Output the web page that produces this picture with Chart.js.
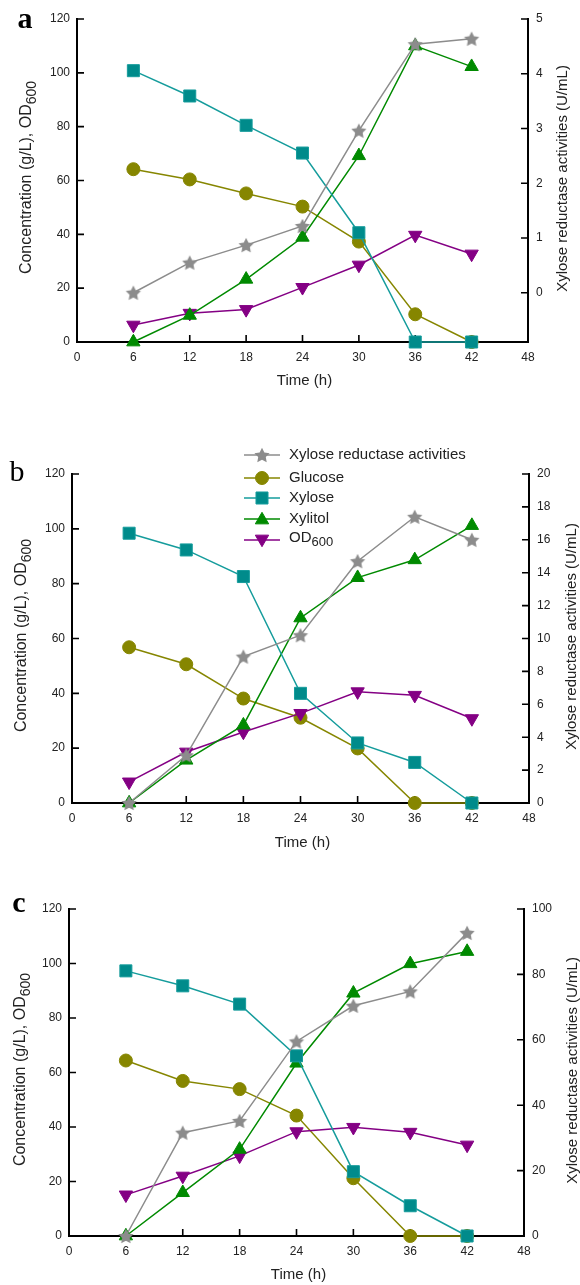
<!DOCTYPE html>
<html>
<head>
<meta charset="utf-8">
<script src="https://cdn.jsdelivr.net/npm/chart.js@4.4.1/dist/chart.umd.min.js"></script>
<style>
  html, body { margin: 0; padding: 0; background: #fff; }
  .panel { position: absolute; left: 0; width: 580px; }
  canvas { display: block; }
</style>
</head>
<body>
<div class="panel" style="top:0px"><canvas id="chartA" width="580" height="395"></canvas></div>
<div class="panel" style="top:395px"><canvas id="chartB" width="580" height="455"></canvas></div>
<div class="panel" style="top:850px"><canvas id="chartC" width="580" height="435"></canvas></div>
<script>
// sampling times and axis ticks
const times = [6, 12, 18, 24, 30, 36, 42];
const xTicks = [0, 6, 12, 18, 24, 30, 36, 42, 48];
const leftTicks = [0, 20, 40, 60, 80, 100, 120];

// panel a
const glucoseA = [64.2, 60.4, 55.2, 50.3, 37.3, 10.3, 0];
const xyloseA = [100.8, 91.4, 80.5, 70.2, 40.6, 0, 0];
const xylitolA = [0, 9.9, 23.3, 38.9, 69.2, 110, 102.3];
const odA = [6.3, 10.7, 12.1, 20.3, 28.6, 39.7, 32.7];
const activityA = [0, 0.55, 0.87, 1.22, 2.96, 4.54, 4.64];
const rightTicksA = [0, 1, 2, 3, 4, 5];

// panel b
const glucoseB = [56.8, 50.6, 38.1, 31.1, 19.9, 0, 0];
const xyloseB = [98.4, 92.3, 82.6, 40, 21.9, 14.8, 0];
const xylitolB = [0, 15.6, 28.4, 67.5, 82.2, 88.7, 101.2];
const odB = [7.7, 18.6, 25.9, 32.7, 40.6, 39.3, 30.8];
const activityB = [0, 2.9, 8.9, 10.2, 14.7, 17.4, 16.0];
const rightTicksB = [0, 2, 4, 6, 8, 10, 12, 14, 16, 18, 20];

// panel c
const glucoseC = [64.4, 56.9, 53.9, 44.2, 21.2, 0, 0];
const xyloseC = [97.3, 91.8, 85.1, 66.1, 23.6, 11.1, 0];
const xylitolC = [0, 15.9, 31.8, 63.4, 89.1, 99.9, 104.4];
const odC = [15.1, 22.0, 29.4, 38.3, 39.9, 38.1, 33.4];
const activityC = [0, 31.6, 35.2, 59.5, 70.4, 74.8, 92.7];
const rightTicksC = [0, 20, 40, 60, 80, 100];

const FONT = '"Liberation Sans", Arial, sans-serif';
const GRAY = "#8c8c8c";
const OLIVE = "#868600";
const TEAL = "#008b8b";
const GREEN = "#008a00";
const PURPLE = "#840084";

Chart.defaults.font.family = FONT;

function makeStar(color, R) {
  const c = document.createElement("canvas");
  const s = Math.ceil(R * 2) + 2;
  c.width = s;
  c.height = s;
  const g = c.getContext("2d");
  const cx = s / 2, cy = s / 2 + R * 0.1;
  g.beginPath();
  for (let i = 0; i < 10; i++) {
    const a = -Math.PI / 2 + (i * Math.PI) / 5;
    const r = i % 2 ? R * 0.5 : R;
    g.lineTo(cx + r * Math.cos(a), cy + r * Math.sin(a));
  }
  g.closePath();
  g.fillStyle = color;
  g.fill();
  return c;
}
const starImg = makeStar(GRAY, 8);

// series look, in legend order
const seriesStyle = [
  { label: "Xylose reductase activities", color: GRAY, fill: GRAY, style: starImg, r: 7, rot: 0, order: 0 },
  { label: "Glucose", color: OLIVE, fill: OLIVE, style: "circle", r: 6.5, rot: 0, order: 4 },
  { label: "Xylose", color: "#159c9c", fill: TEAL, style: "rect", r: 8.5, rot: 0, order: 1 },
  { label: "Xylitol", color: GREEN, fill: GREEN, style: "triangle", r: 7.7, rot: 0, order: 2 },
  { label: "OD600", color: PURPLE, fill: PURPLE, style: "triangle", r: 7.7, rot: 180, order: 3 },
];

function drawParts(ctx, parts, x, y, angle, size) {
  ctx.save();
  ctx.translate(x, y);
  ctx.rotate(angle);
  ctx.textBaseline = "middle";
  ctx.fillStyle = "#222";
  const sub = Math.round(size * 0.85);
  let total = 0;
  const w = parts.map((p) => {
    ctx.font = (p[1] ? sub : size) + "px " + FONT;
    const m = ctx.measureText(p[0]).width;
    total += m;
    return m;
  });
  let cx = -total / 2;
  parts.forEach((p, i) => {
    ctx.font = (p[1] ? sub : size) + "px " + FONT;
    ctx.fillText(p[0], cx, p[1] ? size * 0.3 : 0);
    cx += w[i];
  });
  ctx.restore();
}

function drawMarker(ctx, s, x, y) {
  ctx.save();
  ctx.fillStyle = s.fill;
  ctx.strokeStyle = s.color;
  ctx.lineWidth = 1;
  if (Chart.helpers && Chart.helpers.drawPoint) {
    Chart.helpers.drawPoint(ctx, { pointStyle: s.style, rotation: s.rot, radius: s.r, borderWidth: 1 }, x, y);
  }
  ctx.restore();
}

const decor = {
  id: "decor",
  beforeDatasetsDraw(chart) {
    // inward tick marks
    const ctx = chart.ctx;
    const a = chart.chartArea;
    ctx.save();
    ctx.strokeStyle = "#000";
    ctx.lineWidth = 1.6;
    ctx.beginPath();
    chart.scales.x.ticks.forEach((t) => {
      const px = chart.scales.x.getPixelForValue(t.value);
      ctx.moveTo(px, a.bottom);
      ctx.lineTo(px, a.bottom - 7);
    });
    chart.scales.y.ticks.forEach((t) => {
      const py = chart.scales.y.getPixelForValue(t.value);
      ctx.moveTo(a.left, py);
      ctx.lineTo(a.left + 7, py);
    });
    chart.scales.y1.ticks.forEach((t) => {
      const py = chart.scales.y1.getPixelForValue(t.value);
      ctx.moveTo(a.right, py);
      ctx.lineTo(a.right - 7, py);
    });
    ctx.stroke();
    ctx.restore();
  },
  afterDraw(chart, args, o) {
    const ctx = chart.ctx;
    const a = chart.chartArea;
    // panel letter
    ctx.save();
    ctx.fillStyle = "#000";
    ctx.font = (o.bold ? "bold " : "") + '30px "Liberation Serif", "Times New Roman", serif';
    ctx.textAlign = "center";
    ctx.textBaseline = "alphabetic";
    ctx.fillText(o.letter, o.letterX, o.letterY);
    ctx.restore();
    // axis titles
    drawParts(ctx, [["Time (h)", false]], (a.left + a.right) / 2 + 2, o.timeY, 0, 15);
    drawParts(ctx, [["Concentration (g/L), OD", false], ["600", true]], o.leftX, (a.top + a.bottom) / 2 - 3, -Math.PI / 2, 16);
    drawParts(ctx, [["Xylose reductase activities (U/mL)", false]], o.rightX, (a.top + a.bottom) / 2 - 2, -Math.PI / 2, 15);
    // legend
    if (o.legend) {
      const rows = [60, 83, 103, 124, 145];
      seriesStyle.forEach((s, i) => {
        const y = rows[i];
        ctx.save();
        ctx.strokeStyle = s.color;
        ctx.lineWidth = 1.5;
        ctx.beginPath();
        ctx.moveTo(244, y);
        ctx.lineTo(280, y);
        ctx.stroke();
        ctx.restore();
        drawMarker(ctx, s, 262, y + (s.style === "triangle" ? (s.rot ? -1 : 1) : 0));
        if (s.label === "OD600") {
          ctx.save();
          ctx.font = "15px " + FONT;
          ctx.fillStyle = "#222";
          ctx.textBaseline = "middle";
          ctx.fillText("OD", 289, y - 2);
          const w = ctx.measureText("OD").width;
          ctx.font = "13px " + FONT;
          ctx.fillText("600", 289 + w, y + 2);
          ctx.restore();
        } else {
          ctx.save();
          ctx.font = "15px " + FONT;
          ctx.fillStyle = "#222";
          ctx.textBaseline = "middle";
          ctx.fillText(s.label, 289, y);
          ctx.restore();
        }
      });
    }
  },
};

function buildChart(id, geo, series, rightMin, rightMax, rightTicks, deco) {
  const pts = (vals) => times.map((t, i) => ({ x: t, y: vals[i] }));
  const datasets = seriesStyle.map((s, i) => ({
    label: s.label,
    data: pts(series[i]),
    yAxisID: i === 0 ? "y1" : "y",
    borderColor: s.color,
    backgroundColor: s.fill,
    pointBackgroundColor: s.fill,
    pointBorderColor: s.color,
    pointBorderWidth: 1,
    pointStyle: s.style,
    pointRadius: s.r,
    pointHoverRadius: s.r,
    pointRotation: s.rot,
    borderWidth: 1.5,
    tension: 0,
    clip: false,
    order: s.order,
  }));
  const tickFont = { size: 12, family: FONT };
  const grid = { display: false, drawTicks: false };
  return new Chart(document.getElementById(id), {
    type: "line",
    data: { datasets },
    plugins: [decor],
    options: {
      responsive: false,
      animation: false,
      devicePixelRatio: 1,
      layout: { padding: { top: geo.top, left: 0, right: 0, bottom: 0 } },
      plugins: { legend: { display: false }, tooltip: { enabled: false }, decor: deco },
      scales: {
        x: {
          type: "linear",
          min: 0,
          max: 48,
          afterBuildTicks: (s) => { s.ticks = xTicks.map((v) => ({ value: v })); },
          afterFit: (s) => { s.height = geo.height - geo.bottom; },
          grid,
          border: { display: true, color: "#000", width: 2 },
          ticks: { padding: 8, color: "#222", font: tickFont, autoSkip: false, maxRotation: 0 },
        },
        y: {
          type: "linear",
          position: "left",
          min: 0,
          max: 120,
          afterBuildTicks: (s) => { s.ticks = leftTicks.map((v) => ({ value: v })); },
          afterFit: (s) => { s.width = geo.left; },
          grid,
          border: { display: true, color: "#000", width: 2 },
          ticks: { padding: 7, color: "#222", font: tickFont },
        },
        y1: {
          type: "linear",
          position: "right",
          min: rightMin,
          max: rightMax,
          afterBuildTicks: (s) => { s.ticks = rightTicks.map((v) => ({ value: v })); },
          afterFit: (s) => { s.width = 580 - geo.right; },
          grid,
          border: { display: true, color: "#000", width: 2 },
          ticks: { padding: 8, color: "#222", font: tickFont },
        },
      },
    },
  });
}

buildChart("chartA", { top: 19, left: 77, right: 528, bottom: 342, height: 395 },
  [activityA, glucoseA, xyloseA, xylitolA, odA], -0.9, 5, rightTicksA,
  { letter: "a", bold: true, letterX: 25, letterY: 28, timeY: 381, leftX: 27, rightX: 563, legend: false });

buildChart("chartB", { top: 79, left: 72, right: 529, bottom: 408, height: 455 },
  [activityB, glucoseB, xyloseB, xylitolB, odB], 0, 20, rightTicksB,
  { letter: "b", bold: false, letterX: 17, letterY: 86, timeY: 448, leftX: 22, rightX: 572, legend: true });

buildChart("chartC", { top: 59, left: 69, right: 524, bottom: 386, height: 435 },
  [activityC, glucoseC, xyloseC, xylitolC, odC], 0, 100, rightTicksC,
  { letter: "c", bold: true, letterX: 19, letterY: 62, timeY: 425, leftX: 21, rightX: 573, legend: false });
</script>
</body>
</html>
